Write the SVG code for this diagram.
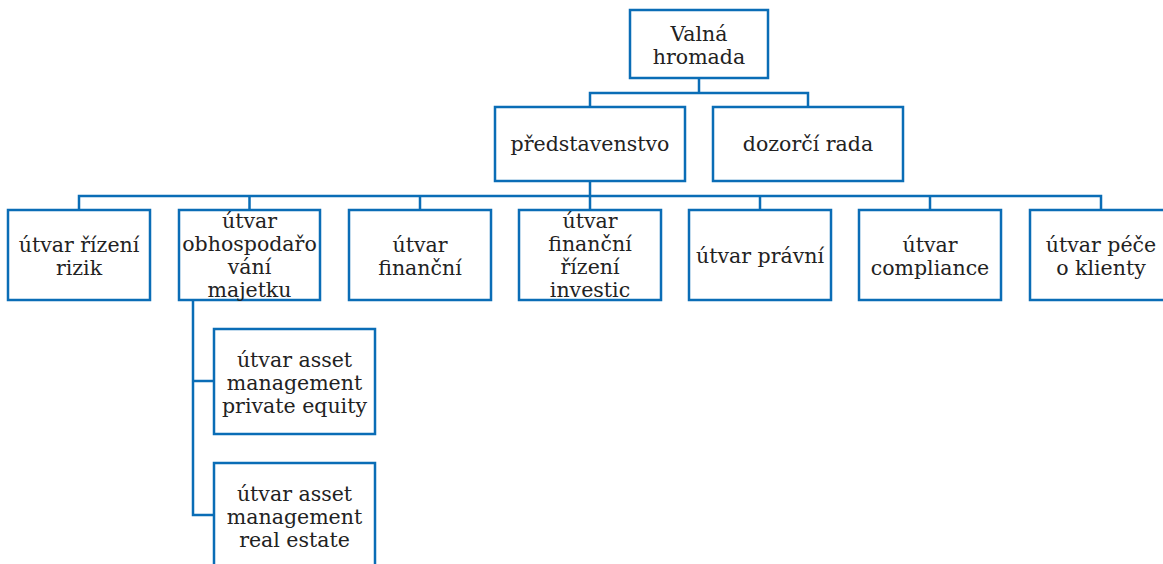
<svg xmlns="http://www.w3.org/2000/svg" width="1163" height="564" viewBox="0 0 1163 564">
<style>
rect.n{fill:#fff;stroke:#0a6db6;stroke-width:2.5}
.c path{fill:none;stroke:#0a6db6;stroke-width:2.5}
text{font-family:"DejaVu Serif","Liberation Serif",serif;font-size:20.5px;fill:#222;text-anchor:middle}
</style>
<rect width="1163" height="564" fill="#fff"/>
<g class="c">
<path d="M699 78V93M590 107V93H808V107"/>
<path d="M590 181V196M79 210V196H1101V210M249.5 196V210M420 196V210M590 196V210M760 196V210M930 196V210"/>
<path d="M193 300V515H214M193 381H214"/>
</g>
<g id="valna"><rect class="n" x="630" y="10" width="138" height="68"/><text x="699" y="41">Valná</text><text x="699" y="64">hromada</text></g>
<g id="predstavenstvo"><rect class="n" x="495" y="107" width="190" height="74"/><text x="590" y="151">představenstvo</text></g>
<g id="dozorci"><rect class="n" x="713" y="107" width="190" height="74"/><text x="808" y="151">dozorčí rada</text></g>
<g id="rizeni"><rect class="n" x="8" y="210" width="142" height="90"/><text x="79" y="252">útvar řízení</text><text x="79" y="275">rizik</text></g>
<g id="obhosp"><rect class="n" x="179" y="210" width="141" height="90"/><text x="249.5" y="228">útvar</text><text x="249.5" y="251">obhospodařo</text><text x="249.5" y="274">vání</text><text x="249.5" y="297">majetku</text></g>
<g id="financni"><rect class="n" x="349" y="210" width="142" height="90"/><text x="420" y="252">útvar</text><text x="420" y="275">finanční</text></g>
<g id="investic"><rect class="n" x="519" y="210" width="142" height="90"/><text x="590" y="228">útvar</text><text x="590" y="251">finanční</text><text x="590" y="274">řízení</text><text x="590" y="297">investic</text></g>
<g id="pravni"><rect class="n" x="689" y="210" width="142" height="90"/><text x="760" y="263">útvar právní</text></g>
<g id="compliance"><rect class="n" x="859" y="210" width="142" height="90"/><text x="930" y="252">útvar</text><text x="930" y="275">compliance</text></g>
<g id="pece"><rect class="n" x="1030" y="210" width="142" height="90"/><text x="1101" y="252">útvar péče</text><text x="1101" y="275">o klienty</text></g>
<g id="pe"><rect class="n" x="214" y="329" width="161" height="105"/><text x="294.5" y="367">útvar asset</text><text x="294.5" y="390">management</text><text x="294.5" y="413">private equity</text></g>
<g id="re"><rect class="n" x="214" y="463" width="161" height="110"/><text x="294.5" y="501">útvar asset</text><text x="294.5" y="524">management</text><text x="294.5" y="547">real estate</text></g>
</svg>
